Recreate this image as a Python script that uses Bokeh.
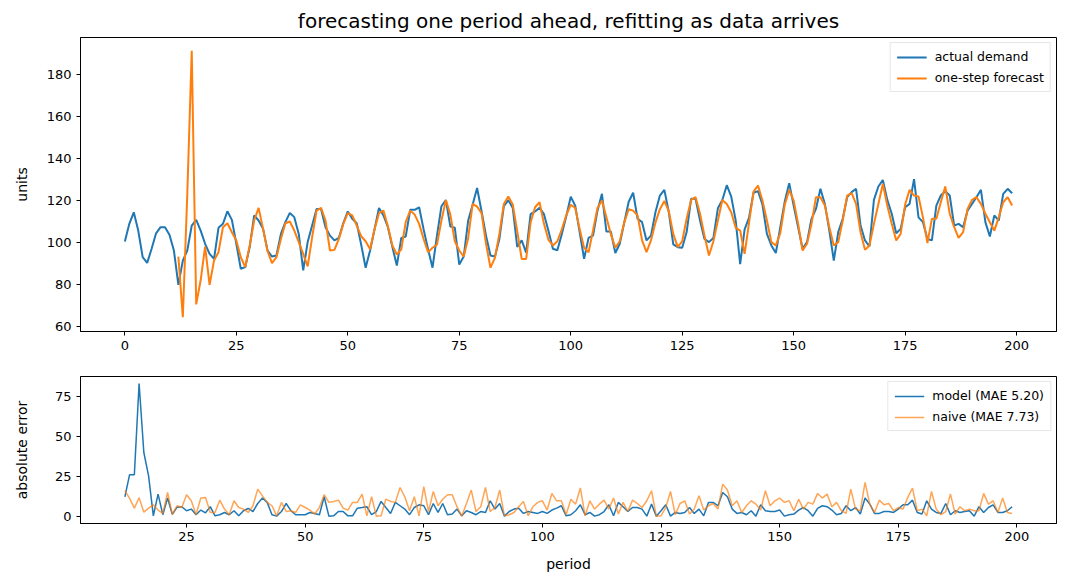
from bokeh.embed import file_html
from bokeh.layouts import column
from bokeh.models import FixedTicker, Range1d
from bokeh.plotting import figure
from bokeh.resources import INLINE

# values
periods = list(range(200))
actual = [
    100.5, 108.9, 114.4, 105.7, 93.0, 90.3, 97.0, 104.4, 107.3, 107.3,
    103.7, 96.2, 79.8, 91.4, 96.2, 108.1, 110.8, 105.7, 99.4, 94.6,
    92.2, 107.0, 108.9, 114.9, 110.8, 99.4, 87.5, 88.3, 97.8, 112.9,
    110.5, 106.5, 96.2, 93.3, 93.8, 104.1, 109.7, 114.1, 112.1, 104.1,
    86.7, 100.2, 108.1, 116.0, 116.0, 107.3, 103.3, 101.0, 102.2, 109.3,
    114.8, 111.3, 109.2, 99.0, 88.0, 96.2, 106.3, 116.5, 112.9, 107.3,
    97.8, 89.0, 102.2, 102.9, 115.6, 115.6, 116.8, 106.3, 96.8, 88.0,
    103.3, 117.3, 120.2, 107.6, 107.1, 89.5, 93.3, 110.5, 118.0, 126.0,
    114.9, 103.3, 93.8, 93.3, 101.7, 117.3, 120.2, 116.5, 97.9, 101.0,
    95.2, 113.5, 114.8, 116.5, 113.5, 105.6, 97.0, 96.3, 104.0, 112.5,
    121.8, 117.6, 105.0, 92.2, 102.2, 103.3, 115.2, 123.2, 105.2, 105.2,
    95.0, 99.4, 109.5, 119.4, 123.7, 111.3, 109.7, 101.0, 103.3, 114.4,
    122.4, 125.1, 114.4, 99.1, 97.8, 97.5, 105.0, 120.8, 120.8, 110.5,
    101.7, 100.2, 102.2, 116.3, 120.3, 127.3, 121.9, 110.5, 89.7, 106.3,
    111.9, 123.7, 124.5, 118.1, 104.1, 98.6, 95.0, 107.3, 119.5, 128.3,
    117.6, 107.3, 97.0, 100.2, 111.3, 116.0, 125.6, 118.4, 105.7, 91.4,
    105.0, 111.3, 121.6, 124.0, 125.6, 108.1, 101.0, 98.1, 120.3, 126.7,
    129.8, 120.3, 113.7, 104.4, 106.5, 116.8, 118.4, 130.2, 112.0, 109.7,
    101.7, 101.0, 117.6, 122.4, 124.4, 122.4, 108.1, 108.9, 107.3, 115.2,
    118.4, 121.6, 125.1, 109.7, 102.9, 112.9, 110.5, 123.2, 125.6, 123.5,
]

fc_periods = list(range(12, 200))
forecast = [
    93.3, 64.4, 123.0, 191.4, 70.5, 82.0, 98.1, 79.8,
    91.4, 95.4, 107.3, 109.2, 104.9, 101.0, 93.0, 88.3, 98.6, 110.5,
    116.5, 106.5, 95.9, 90.2, 93.0, 101.7, 109.2, 110.0, 105.7, 100.2,
    94.6, 88.6, 102.5, 115.2, 116.5, 110.5, 96.2, 96.5, 101.7, 108.9,
    114.0, 112.9, 108.1, 103.0, 100.6, 96.8, 106.3, 114.0, 115.2, 107.6,
    98.6, 94.3, 96.8, 109.8, 115.2, 113.3, 108.9, 101.7, 95.4, 97.5,
    99.0, 110.5, 120.3, 113.3, 100.6, 96.2, 93.3, 102.2, 118.4, 117.1,
    114.0, 99.4, 88.0, 92.7, 104.1, 118.4, 121.9, 118.1, 105.4, 92.2,
    92.2, 109.5, 116.8, 119.2, 108.9, 101.3, 98.6, 100.6, 106.3, 113.0,
    118.0, 116.5, 106.5, 97.5, 95.4, 105.7, 116.5, 120.0, 112.0, 104.0,
    97.5, 100.6, 109.5, 115.9, 115.2, 112.9, 101.0, 95.4, 101.0, 109.5,
    115.9, 119.8, 114.8, 104.1, 97.8, 100.6, 111.3, 120.3, 121.6, 113.7,
    103.3, 93.8, 100.6, 110.5, 120.3, 118.4, 114.4, 107.0, 105.7, 94.6,
    109.5, 124.3, 127.1, 120.0, 110.5, 100.2, 98.6, 104.5, 118.0, 125.1,
    120.0, 108.9, 96.2, 99.4, 108.9, 121.6, 121.6, 117.6, 107.3, 98.6,
    100.2, 110.5, 122.4, 123.5, 118.4, 104.9, 96.5, 98.6, 108.9, 118.4,
    127.9, 117.6, 108.9, 101.0, 104.1, 118.1, 125.1, 122.4, 121.9, 112.0,
    99.7, 111.3, 111.3, 119.2, 126.7, 113.7, 107.3, 102.2, 104.9, 116.0,
    120.3, 121.6, 118.4, 113.7, 109.7, 105.7, 112.0, 119.2, 121.6, 117.6,
]

model_err = [
    12.5, 26.3, 26.3, 83.3, 40.2, 25.6, 0.6, 14.2,
    1.3, 11.7, 1.5, 6.0, 6.3, 3.8, 4.8, 1.3, 4.2, 2.5,
    6.3, 0.6, 1.3, 2.7, 1.3, 3.8, 0.6, 3.8, 5.2, 3.3,
    8.3, 11.7, 9.0, 1.3, 0.4, 3.3, 8.3, 3.8, 1.3, 1.3,
    1.3, 2.7, 2.1, 1.3, 12.5, 0.4, 0.6, 3.3, 3.3, 0.6,
    0.6, 5.4, 5.8, 6.3, 1.3, 3.3, 9.6, 5.8, 2.1, 9.0,
    6.9, 4.8, 1.3, 5.8, 7.5, 6.9, 1.3, 8.3, 2.7, 8.3,
    1.3, 1.7, 4.8, 0.6, 3.8, 2.7, 1.3, 3.3, 2.7, 10.0,
    4.8, 8.3, 0.4, 3.3, 4.8, 5.4, 2.1, 3.3, 2.7, 2.1,
    3.3, 2.1, 4.2, 5.4, 6.9, 0.6, 1.3, 3.8, 7.5, 1.3,
    2.7, 0.4, 1.3, 3.3, 7.5, 0.6, 9.0, 6.3, 3.3, 5.8,
    5.8, 4.8, 0.4, 7.9, 0.4, 3.8, 7.5, 0.4, 2.7, 2.1,
    2.7, 5.8, 2.1, 4.8, 0.6, 9.0, 9.0, 6.9, 15.2, 12.5,
    4.8, 2.1, 2.7, 1.3, 3.8, 0.4, 7.5, 3.8, 3.3, 3.3,
    4.2, 0.4, 1.3, 1.7, 4.2, 5.8, 3.8, 0.4, 5.3, 6.9,
    6.3, 4.2, 1.3, 2.1, 6.9, 3.8, 5.8, 1.7, 11.7, 7.9,
    2.1, 2.1, 3.3, 3.3, 2.7, 4.8, 7.5, 7.5, 10.4, 2.7,
    1.7, 10.0, 4.8, 2.7, 2.1, 8.3, 1.3, 3.8, 2.7, 3.3,
    3.8, 0.4, 6.3, 2.7, 5.8, 7.5, 2.7, 2.7, 3.8, 6.3,
]

naive_err = [
    16.3, 11.5, 5.4, 11.9, 2.9, 5.4, 7.5, 4.2,
    2.1, 15.2, 1.5, 6.9, 5.8, 13.8, 10.0, 1.3, 11.7, 12.1,
    2.7, 2.7, 10.4, 4.8, 1.3, 10.0, 5.8, 4.8, 2.7, 6.9,
    17.3, 13.1, 9.0, 6.9, 0.6, 9.0, 3.3, 3.8, 2.7, 7.5,
    5.8, 4.2, 1.7, 5.8, 13.8, 9.0, 9.6, 10.4, 5.4, 4.2,
    9.0, 9.0, 14.2, 0.6, 12.5, 0.4, 0.6, 11.0, 9.6, 9.0,
    18.3, 12.5, 3.8, 12.5, 0.6, 18.8, 3.3, 15.8, 6.9, 11.0,
    13.8, 13.8, 6.3, 0.4, 8.3, 16.7, 3.3, 6.3, 18.3, 3.3,
    5.8, 16.7, 0.6, 1.3, 2.7, 6.3, 9.6, 0.6, 6.3, 9.0,
    10.0, 4.2, 14.6, 10.0, 10.0, 1.3, 11.0, 7.9, 18.0, 0.6,
    10.0, 4.8, 7.9, 10.4, 4.8, 11.7, 1.7, 9.0, 3.3, 10.4,
    8.3, 5.8, 10.0, 16.3, 0.4, 0.6, 5.8, 15.8, 1.3, 8.3,
    10.0, 1.7, 4.8, 13.1, 4.2, 6.9, 8.3, 4.8, 20.4, 16.7,
    6.9, 10.0, 2.7, 6.9, 10.0, 7.9, 4.2, 16.3, 6.9, 10.0,
    11.7, 9.0, 10.0, 3.8, 11.0, 4.8, 9.0, 7.9, 14.6, 11.7,
    14.2, 6.3, 9.0, 3.8, 2.1, 17.3, 4.8, 3.8, 21.5, 7.9,
    2.7, 10.4, 7.5, 8.3, 3.8, 5.8, 4.8, 12.1, 17.9, 3.8,
    4.8, 0.6, 15.8, 4.8, 1.3, 3.3, 14.2, 1.7, 6.3, 3.8,
    4.8, 3.8, 3.8, 14.6, 7.9, 10.0, 2.7, 11.7, 2.7, 2.1,
]

top_xticks = [0, 25, 50, 75, 100, 125, 150, 175, 200]
top_yticks = [60, 80, 100, 120, 140, 160, 180]
bot_xticks = [25, 50, 75, 100, 125, 150, 175, 200]
bot_yticks = [0, 25, 50, 75]

BLUE = "#1f77b4"
ORANGE = "#ff7f0e"
FONT = "DejaVu Sans"


def style(p, xticks, yticks):
    p.outline_line_color = "black"
    p.outline_line_width = 1
    p.grid.visible = False
    p.xaxis.ticker = FixedTicker(ticks=xticks)
    p.yaxis.ticker = FixedTicker(ticks=yticks)
    for ax in p.axis:
        ax.axis_line_color = "black"
        ax.major_tick_out = 4
        ax.major_tick_in = 0
        ax.minor_tick_line_color = None
        ax.major_label_text_font = FONT
        ax.major_label_text_font_size = "13px"
        ax.major_label_text_color = "black"
        ax.axis_label_text_font = FONT
        ax.axis_label_text_font_size = "14px"
        ax.axis_label_text_font_style = "normal"
        ax.axis_label_text_color = "black"
    p.legend.location = "top_right"
    p.legend.label_text_font = FONT
    p.legend.label_text_font_size = "12.5px"
    p.legend.label_text_color = "black"
    p.legend.glyph_width = 30
    p.legend.glyph_height = 14
    p.legend.label_standoff = 8
    p.legend.spacing = 6
    p.legend.padding = 6
    p.legend.margin = 5
    p.legend.border_line_color = "#d0d0d0"
    p.legend.background_fill_alpha = 0.8


top = figure(width=1060, height=363, title="forecasting one period ahead, refitting as data arrives",
             x_range=Range1d(-9.95, 208.95), y_range=Range1d(57.6, 197.7),
             output_backend="svg", toolbar_location=None,
             min_border_left=80, min_border_right=4, min_border_top=37, min_border_bottom=32)
top.title.align = "center"
top.title.text_font = FONT
top.title.text_font_size = "20px"
top.title.text_font_style = "normal"
top.title.text_color = "black"
top.title.text_line_height = 0.9
top.title.standoff = 10
top.line(periods, actual, color=BLUE, line_width=2, legend_label="actual demand")
top.line(fc_periods, forecast, color=ORANGE, line_width=2, legend_label="one-step forecast")
top.yaxis.axis_label = "units"
top.yaxis.axis_label_standoff = 14
style(top, top_xticks, top_yticks)

bot = figure(width=1060, height=216,
             x_range=Range1d(2.65, 208.35), y_range=Range1d(-4.2, 87.7),
             output_backend="svg", toolbar_location=None,
             min_border_left=80, min_border_right=4, min_border_top=13, min_border_bottom=56)
bot.line(fc_periods, model_err, color=BLUE, line_width=1.5, legend_label="model (MAE 5.20)")
bot.line(fc_periods, naive_err, color=ORANGE, line_width=1.5, alpha=0.7, legend_label="naive (MAE 7.73)")
bot.xaxis.axis_label = "period"
bot.xaxis.major_label_standoff = 4
bot.xaxis.axis_label_standoff = 12
bot.yaxis.axis_label = "absolute error"
bot.yaxis.axis_label_standoff = 22
style(bot, bot_xticks, bot_yticks)

layout = column(top, bot, spacing=0)
open("out.html", "w").write(file_html(layout, INLINE))
